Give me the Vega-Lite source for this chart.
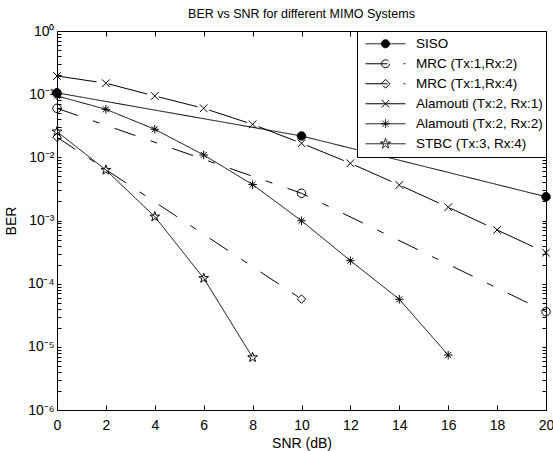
{
  "$schema": "https://vega.github.io/schema/vega-lite/v6.json",
  "autosize": {"type": "none"},
  "width": 489,
  "height": 379,
  "padding": {"left": 57, "top": 31, "right": 7, "bottom": 41},
  "title": {"text": "BER vs SNR for different MIMO Systems", "fontSize": 12.5, "fontWeight": "normal", "font": "Liberation Sans", "color": "black", "offset": 4},
  "config": {
    "font": "Liberation Sans",
    "view": {"stroke": "black", "strokeWidth": 1},
    "axis": {"domainColor": "black", "tickColor": "black", "labelColor": "black", "titleColor": "black", "labelFont": "Liberation Sans", "titleFont": "Liberation Sans", "labelFontSize": 14, "titleFontSize": 14, "titleFontWeight": "normal", "grid": false, "labelFlush": false, "labelOverlap": false},
    "legend": {"title": null, "orient": "top-right", "offset": 0, "padding": 3, "strokeColor": "black", "fillColor": "white", "symbolSize": 1600, "clipHeight": 19.5, "symbolOffset": 5, "labelOffset": 10, "labelFontSize": 13.5, "labelFont": "Liberation Sans", "labelColor": "black", "labelLimit": 300, "symbolStrokeColor": "black", "symbolStrokeWidth": 1, "symbolOpacity": 1, "rowPadding": 0}
  },
  "data": {"values": [
    {"series": "SISO", "snr": 0, "ber": 0.105},
    {"series": "SISO", "snr": 10, "ber": 0.0218},
    {"series": "SISO", "snr": 20, "ber": 0.00238},
    {"series": "MRC (Tx:1,Rx:2)", "snr": 0, "ber": 0.0597},
    {"series": "MRC (Tx:1,Rx:2)", "snr": 10, "ber": 0.0027},
    {"series": "MRC (Tx:1,Rx:2)", "snr": 20, "ber": 0.000036},
    {"series": "MRC (Tx:1,Rx:4)", "snr": 0, "ber": 0.0208},
    {"series": "MRC (Tx:1,Rx:4)", "snr": 10, "ber": 0.000057},
    {"series": "Alamouti (Tx:2, Rx:1)", "snr": 0, "ber": 0.194},
    {"series": "Alamouti (Tx:2, Rx:1)", "snr": 2, "ber": 0.149},
    {"series": "Alamouti (Tx:2, Rx:1)", "snr": 4, "ber": 0.0935},
    {"series": "Alamouti (Tx:2, Rx:1)", "snr": 6, "ber": 0.0597},
    {"series": "Alamouti (Tx:2, Rx:1)", "snr": 8, "ber": 0.0333},
    {"series": "Alamouti (Tx:2, Rx:1)", "snr": 10, "ber": 0.0167},
    {"series": "Alamouti (Tx:2, Rx:1)", "snr": 12, "ber": 0.00805},
    {"series": "Alamouti (Tx:2, Rx:1)", "snr": 14, "ber": 0.00365},
    {"series": "Alamouti (Tx:2, Rx:1)", "snr": 16, "ber": 0.00162},
    {"series": "Alamouti (Tx:2, Rx:1)", "snr": 18, "ber": 0.000708},
    {"series": "Alamouti (Tx:2, Rx:1)", "snr": 20, "ber": 0.00031},
    {"series": "Alamouti (Tx:2, Rx:2)", "snr": 0, "ber": 0.094},
    {"series": "Alamouti (Tx:2, Rx:2)", "snr": 2, "ber": 0.0576},
    {"series": "Alamouti (Tx:2, Rx:2)", "snr": 4, "ber": 0.0278},
    {"series": "Alamouti (Tx:2, Rx:2)", "snr": 6, "ber": 0.0109},
    {"series": "Alamouti (Tx:2, Rx:2)", "snr": 8, "ber": 0.0037},
    {"series": "Alamouti (Tx:2, Rx:2)", "snr": 10, "ber": 0.00099},
    {"series": "Alamouti (Tx:2, Rx:2)", "snr": 12, "ber": 0.000231},
    {"series": "Alamouti (Tx:2, Rx:2)", "snr": 14, "ber": 0.0000566},
    {"series": "Alamouti (Tx:2, Rx:2)", "snr": 16, "ber": 0.0000074},
    {"series": "STBC (Tx:3, Rx:4)", "snr": 0, "ber": 0.0255},
    {"series": "STBC (Tx:3, Rx:4)", "snr": 2, "ber": 0.0063},
    {"series": "STBC (Tx:3, Rx:4)", "snr": 4, "ber": 0.00115},
    {"series": "STBC (Tx:3, Rx:4)", "snr": 6, "ber": 0.000122},
    {"series": "STBC (Tx:3, Rx:4)", "snr": 8, "ber": 0.0000068}
  ]},
  "resolve": {"scale": {"shape": "independent", "strokeDash": "independent", "fill": "independent"}, "axis": {"x": "independent", "y": "independent"}},
  "layer": [
    {
      "mark": {"type": "line", "color": "black", "strokeWidth": 1},
      "encoding": {
        "x": {"field": "snr", "type": "quantitative", "scale": {"domain": [0, 20], "nice": false},
              "axis": {"orient": "bottom", "values": [0,2,4,6,8,10,12,14,16,18,20], "tickSize": -5, "labelPadding": 13, "title": "SNR (dB)", "titlePadding": 4}},
        "y": {"field": "ber", "type": "quantitative", "scale": {"type": "log", "domain": [0.000001, 1], "nice": false},
              "axis": {"orient": "left", "values": [0.000001,0.000002,0.000003,0.000004,0.000005,0.000006,0.000007,0.000008,0.000009,0.00001,0.00002,0.00003,0.00004,0.00005,0.00006,0.00007,0.00008,0.00009,0.0001,0.0002,0.0003,0.0004,0.0005,0.0006,0.0007,0.0008,0.0009,0.001,0.002,0.003,0.004,0.005,0.006,0.007,0.008,0.009,0.01,0.02,0.03,0.04,0.05,0.06,0.07,0.08,0.09,0.1,0.2,0.3,0.4,0.5,0.6,0.7,0.8,0.9,1],
                       "tickSize": -4, "labelPadding": 7, "title": "BER", "titlePadding": 9,
                       "labelExpr": "abs(datum.value - 1) < 1e-9 ? '10⁰' : abs(datum.value - 0.1) < 1e-9 ? '10⁻¹' : abs(datum.value - 0.01) < 1e-10 ? '10⁻²' : abs(datum.value - 0.001) < 1e-11 ? '10⁻³' : abs(datum.value - 0.0001) < 1e-12 ? '10⁻⁴' : abs(datum.value - 0.00001) < 1e-13 ? '10⁻⁵' : abs(datum.value - 0.000001) < 1e-14 ? '10⁻⁶' : ''"}},
        "detail": {"field": "series"},
        "strokeDash": {"field": "series", "type": "nominal", "legend": null,
                       "scale": {"domain": ["SISO", "MRC (Tx:1,Rx:2)", "MRC (Tx:1,Rx:4)", "Alamouti (Tx:2, Rx:1)", "Alamouti (Tx:2, Rx:2)", "STBC (Tx:3, Rx:4)"],
                                 "range": [[1, 0], [22, 16, 7, 16], [22, 16, 7, 16], [40, 12], [1, 0], [1, 0]]}}
      }
    },
    {
      "mark": {"type": "point", "filled": false, "stroke": "black", "strokeWidth": 1, "size": 72, "opacity": 1},
      "encoding": {
        "x": {"field": "snr", "type": "quantitative",
              "axis": {"orient": "top", "values": [0,2,4,6,8,10,12,14,16,18,20], "tickSize": -5, "labels": false, "title": null}},
        "y": {"field": "ber", "type": "quantitative",
              "axis": {"orient": "right", "values": [0.000001,0.000002,0.000003,0.000004,0.000005,0.000006,0.000007,0.000008,0.000009,0.00001,0.00002,0.00003,0.00004,0.00005,0.00006,0.00007,0.00008,0.00009,0.0001,0.0002,0.0003,0.0004,0.0005,0.0006,0.0007,0.0008,0.0009,0.001,0.002,0.003,0.004,0.005,0.006,0.007,0.008,0.009,0.01,0.02,0.03,0.04,0.05,0.06,0.07,0.08,0.09,0.1,0.2,0.3,0.4,0.5,0.6,0.7,0.8,0.9,1], "tickSize": -4, "labels": false, "title": null}},
        "shape": {"field": "series", "type": "nominal", "legend": null,
                  "scale": {"domain": ["SISO", "MRC (Tx:1,Rx:2)", "MRC (Tx:1,Rx:4)", "Alamouti (Tx:2, Rx:1)", "Alamouti (Tx:2, Rx:2)", "STBC (Tx:3, Rx:4)"],
                            "range": ["circle", "circle", "diamond", "M-0.9,-0.9L0.9,0.9M-0.9,0.9L0.9,-0.9", "M-1,0L1,0M0,-1L0,1M-0.7,-0.7L0.7,0.7M-0.7,0.7L0.7,-0.7", "M0,-1.2L0.27,-0.37L1.14,-0.37L0.44,0.14L0.71,0.97L0,0.46L-0.71,0.97L-0.44,0.14L-1.14,-0.37L-0.27,-0.37Z"]}},
        "fill": {"field": "series", "type": "nominal", "legend": null,
                 "scale": {"domain": ["SISO", "MRC (Tx:1,Rx:2)", "MRC (Tx:1,Rx:4)", "Alamouti (Tx:2, Rx:1)", "Alamouti (Tx:2, Rx:2)", "STBC (Tx:3, Rx:4)"],
                           "range": ["#000000", "rgba(0,0,0,0)", "rgba(0,0,0,0)", "rgba(0,0,0,0)", "rgba(0,0,0,0)", "rgba(0,0,0,0)"]}}
      }
    },
    {
      "mark": {"type": "point", "filled": false, "stroke": "black", "strokeWidth": 1, "size": 0, "opacity": 0},
      "encoding": {
        "x": {"field": "snr", "type": "quantitative", "axis": null},
        "y": {"field": "ber", "type": "quantitative", "axis": null},
        "shape": {"field": "series", "type": "nominal",
                  "scale": {"domain": ["SISO", "MRC (Tx:1,Rx:2)", "MRC (Tx:1,Rx:4)", "Alamouti (Tx:2, Rx:1)", "Alamouti (Tx:2, Rx:2)", "STBC (Tx:3, Rx:4)"],
                            "range": ["M-1,0L1,0M0.2,0A0.2,0.2,0,1,1,-0.2,0A0.2,0.2,0,1,1,0.2,0Z", "M-1,0L1,0M0.2,0A0.2,0.2,0,1,1,-0.2,0A0.2,0.2,0,1,1,0.2,0Z", "M-1,0L1,0M-0.22,0L0,-0.22L0.22,0L0,0.22Z", "M-1,0L1,0M-0.19,-0.19L0.19,0.19M-0.19,0.19L0.19,-0.19", "M-1,0L1,0M-0.22,0L0.22,0M0,-0.22L0,0.22M-0.16,-0.16L0.16,0.16M-0.16,0.16L0.16,-0.16", "M-1,0L1,0M0,-0.27L0.061,-0.083L0.257,-0.083L0.099,0.032L0.159,0.218L0,0.103L-0.159,0.218L-0.099,0.032L-0.257,-0.083L-0.061,-0.083Z"]},
                  "legend": {"encode": {"symbols": {"update": {"stroke": {"value": "black"}, "strokeWidth": {"value": 1}, "opacity": {"value": 1}, "strokeOpacity": {"value": 1}}}}}},
        "strokeDash": {"field": "series", "type": "nominal",
                       "scale": {"domain": ["SISO", "MRC (Tx:1,Rx:2)", "MRC (Tx:1,Rx:4)", "Alamouti (Tx:2, Rx:1)", "Alamouti (Tx:2, Rx:2)", "STBC (Tx:3, Rx:4)"],
                                 "range": [[1, 0], [22, 16, 7, 16], [22, 16, 7, 16], [40, 12], [1, 0], [1, 0]]},
                       "legend": {"encode": {"symbols": {"update": {"stroke": {"value": "black"}, "strokeWidth": {"value": 1}, "opacity": {"value": 1}, "strokeOpacity": {"value": 1}}}}}},
        "fill": {"field": "series", "type": "nominal",
                 "scale": {"domain": ["SISO", "MRC (Tx:1,Rx:2)", "MRC (Tx:1,Rx:4)", "Alamouti (Tx:2, Rx:1)", "Alamouti (Tx:2, Rx:2)", "STBC (Tx:3, Rx:4)"],
                           "range": ["#000000", "rgba(0,0,0,0)", "rgba(0,0,0,0)", "rgba(0,0,0,0)", "rgba(0,0,0,0)", "rgba(0,0,0,0)"]},
                 "legend": {"encode": {"symbols": {"update": {"stroke": {"value": "black"}, "strokeWidth": {"value": 1}, "opacity": {"value": 1}, "strokeOpacity": {"value": 1}}}}}}
      }
    }
  ]
}
